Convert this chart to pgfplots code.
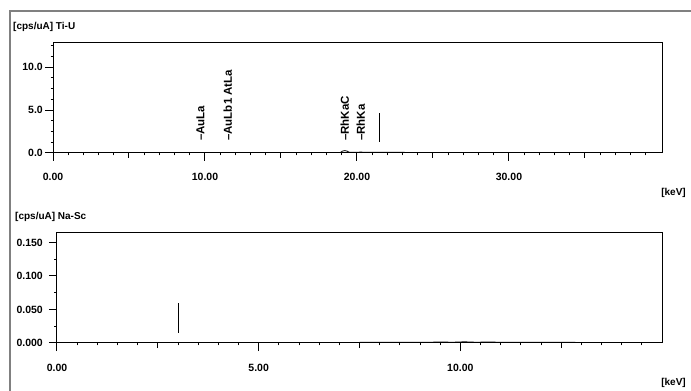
\documentclass[border=0pt]{standalone}
\usepackage{pgfplots}
\pgfplotsset{compat=1.18}
\usepackage{fontspec}
\setmainfont{Liberation Sans}
\begin{document}
\begin{tikzpicture}[x=1pt,y=1pt]
\useasboundingbox (0,0) rectangle (691,391);
\draw[line width=1.5pt, color=black!50] (10,-3) -- (10,380) -- (694,380);
\node[anchor=west, font=\bfseries\fontsize{10}{12}\selectfont, inner sep=0pt] at (13,364) {[cps/uA] Ti-U};
\node[anchor=west, font=\bfseries\fontsize{10}{12}\selectfont, inner sep=0pt] at (15,174) {[cps/uA] Na-Sc};
\node[anchor=east, font=\bfseries\fontsize{10}{12}\selectfont, inner sep=0pt] at (686,198) {[keV]};
\node[anchor=east, font=\bfseries\fontsize{10}{12}\selectfont, inner sep=0pt] at (686,8) {[keV]};
\pgfplotsset{
  specstyle/.style={
    scale only axis,
    axis line style={black, line width=1pt},
    tick align=outside,
    xtick pos=lower, ytick pos=left,
    major tick length=8pt, minor tick length=2.5pt,
    every tick/.style={black, line width=1pt},
    /pgf/number format/assume math mode=true,
    /pgf/number format/fixed, /pgf/number format/fixed zerofill,
    tick label style={font=\bfseries\fontsize{10.5}{12}\selectfont},
    xticklabel style={anchor=base, inner sep=0pt, yshift=-20pt},
    yticklabel style={anchor=east, inner sep=0pt},
    extra x tick style={major tick length=5pt},
    extra x tick labels={},
  }
}
\begin{axis}[specstyle,
  at={(53pt,238pt)}, anchor=south west, width=609pt, height=110pt,
  xmin=0, xmax=40.07, ymin=0, ymax=12.8,
  xtick={0,10,20,30}, extra x ticks={5,15,25,35},
  minor xtick={1,2,...,39},
  ytick={0,5,10}, minor ytick={1.25,2.5,3.75,6.25,7.5,8.75,11.25,12.5},
  xticklabel style={/pgf/number format/precision=2},
  yticklabel style={/pgf/number format/precision=1, xshift=-2pt},
]
\addplot[black, line width=0.8pt] coordinates {
(0.6,0.05) (5,0.05) (10,0.06) (15,0.05) (18.9,0.06) (19.05,0.22) (19.2,0.28) (19.35,0.22) (19.5,0.08) (20.2,0.1) (25,0.05) (39,0.05)};
\addplot[black, line width=1pt] coordinates {(21.45,1.3) (21.45,4.65)};
\node[rotate=90, anchor=west, inner sep=0pt, font=\bfseries\fontsize{11.5}{12}\selectfont] at (axis cs:9.71,1.4) {--AuLa};
\node[rotate=90, anchor=west, inner sep=0pt, font=\bfseries\fontsize{11.5}{12}\selectfont] at (axis cs:11.5,1.4) {--AuLb1 AtLa};
\node[rotate=90, anchor=west, inner sep=0pt, font=\bfseries\fontsize{11.5}{12}\selectfont] at (axis cs:19.2,1.4) {--RhKaC};
\node[rotate=90, anchor=west, inner sep=0pt, font=\bfseries\fontsize{11.5}{12}\selectfont] at (axis cs:20.25,1.4) {--RhKa};
\end{axis}
\begin{axis}[specstyle,
  at={(57pt,48pt)}, anchor=south west, width=605pt, height=110pt,
  xmin=0, xmax=15, ymin=0, ymax=0.164,
  xtick={0,5,10}, extra x ticks={2.5,7.5,12.5},
  minor xtick={0.5,1,...,14.5},
  ytick={0,0.05,0.1,0.15}, minor ytick={0.025,0.075,0.125},
  xticklabel style={/pgf/number format/precision=2},
  yticklabel style={/pgf/number format/precision=3, xshift=-6pt},
]
\addplot[black, line width=0.8pt] coordinates {
(0.6,0.0008) (3,0.0008) (6,0.0008) (9.2,0.001) (9.5,0.0016) (9.8,0.0011) (10.1,0.0018) (10.4,0.0011) (10.7,0.0016) (11,0.001) (14.5,0.0008)};
\addplot[black, line width=1pt] coordinates {(3.0,0.015) (3.0,0.031)};
\addplot[black, line width=1pt] coordinates {(3.02,0.032) (3.02,0.060)};
\end{axis}
\end{tikzpicture}
\end{document}
